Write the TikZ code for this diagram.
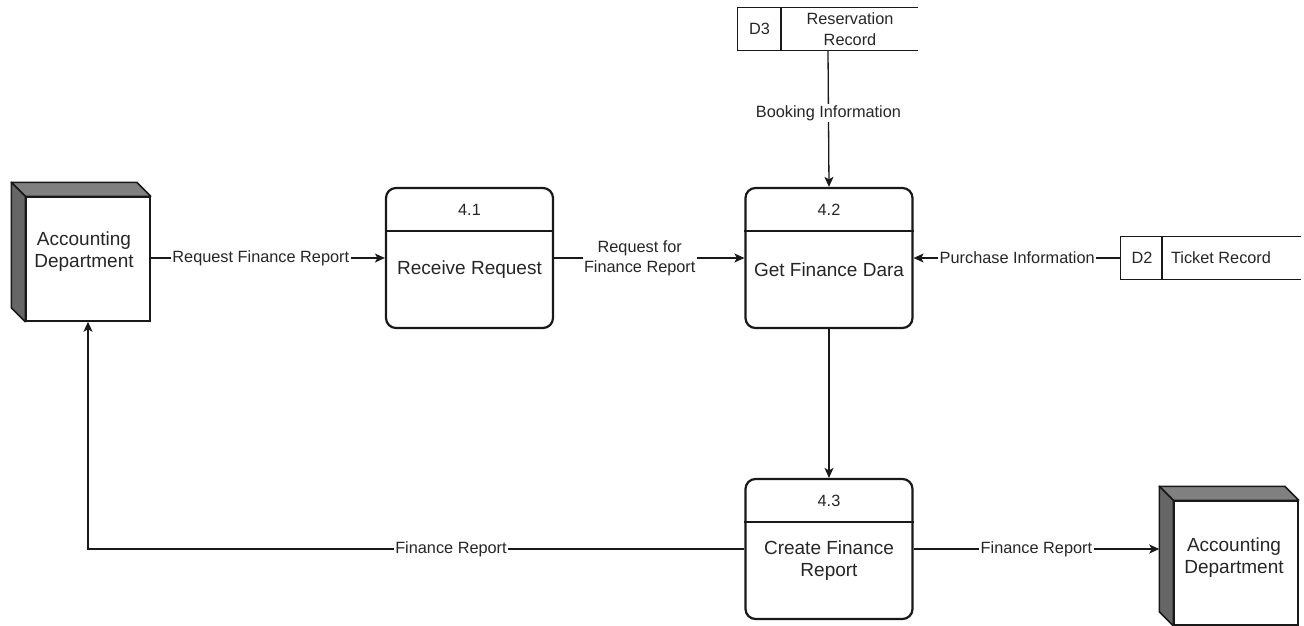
\documentclass[tikz,border=0pt]{standalone}
\usepackage{fontspec}
\setmainfont{Liberation Sans}
\usetikzlibrary{arrows.meta,calc}
\definecolor{topgray}{HTML}{808080}
\definecolor{sidegray}{HTML}{666666}
\tikzset{
  lbl/.style={font=\fontsize{16.3}{20}\selectfont, fill=white, inner sep=1.5pt, align=center, text=black!85},
  big/.style={font=\fontsize{19}{22}\selectfont, align=center, text=black!85, inner sep=0pt},
  small/.style={font=\fontsize{16.3}{20}\selectfont, align=center, text=black!85, inner sep=0pt},
  proc/.style={draw=black!90, line width=2.2pt, rounded corners=10pt, fill=white, minimum width=167, minimum height=140, inner sep=0pt},
  ent/.style={draw=black!90, line width=1.5pt, fill=white, minimum width=124, minimum height=124, inner sep=0pt},
  store/.style={minimum width=180, minimum height=42, inner sep=0pt},
  flow/.style={draw=black!90, line width=1.3pt, -{Stealth[length=10pt,width=9pt,inset=2.5pt]}},
}
\begin{document}
\begin{tikzpicture}[x=1pt,y=-1pt]
\useasboundingbox (0,0) rectangle (1304,626);

% ---- left entity
\node[ent] (e1) at (88,259) {};
\filldraw[fill=topgray, draw=black!90, line width=1.5pt, line join=round]
  (e1.north west) -- ++(-14,-14) -- ($(e1.north east)+(-14,-14)$) -- (e1.north east) -- cycle;
\filldraw[fill=sidegray, draw=black!90, line width=1.5pt, line join=round]
  (e1.north west) -- ++(-14,-14) -- ($(e1.south west)+(-14,-14)$) -- (e1.south west) -- cycle;
\node[big] (e1t) at (84,252) {Accounting\\Department};

% ---- right entity
\node[ent] (e2) at (1236,563) {};
\filldraw[fill=topgray, draw=black!90, line width=1.5pt, line join=round]
  (e2.north west) -- ++(-14,-14) -- ($(e2.north east)+(-14,-14)$) -- (e2.north east) -- cycle;
\filldraw[fill=sidegray, draw=black!90, line width=1.5pt, line join=round]
  (e2.north west) -- ++(-14,-14) -- ($(e2.south west)+(-14,-14)$) -- (e2.south west) -- cycle;
\node[big] (e2t) at (1234,558) {Accounting\\Department};
\coordinate (e2side) at ($(e2.west)+(-14,0)$);

% ---- processes
\node[proc] (p1) at (469.5,258) {};
\draw[line width=1.3pt, draw=black!90] (p1.west |- 0,231) -- (p1.east |- 0,231);
\node[small] (p1n) at (469.5,210) {4.1};
\node[big] (p1t) at (469.5,270) {Receive Request};

\node[proc] (p2) at (829,258) {};
\draw[line width=1.3pt, draw=black!90] (p2.west |- 0,231) -- (p2.east |- 0,231);
\node[small] (p2n) at (829,210) {4.2};
\node[big] (p2t) at (829,270) {Get Finance Dara};

\node[proc] (p3) at (829,549) {};
\draw[line width=1.3pt, draw=black!90] (p3.west |- 0,522) -- (p3.east |- 0,522);
\node[small] (p3n) at (829,501) {4.3};
\node[big] (p3t) at (829,561) {Create Finance\\Report};

% ---- data stores
\node[store] (d3) at (828,29) {};
\draw[line width=1.2pt, draw=black!90] (d3.north east) -- (d3.north west) -- (d3.south west) -- (d3.south east);
\draw[line width=1.2pt, draw=black!90] (781,8) -- (781,50);
\node[small] (d3n) at (759.5,29) {D3};
\node[small, font=\fontsize{16.3}{21}\selectfont] (d3t) at (850,29) {Reservation\\Record};

\node[store] (d2) at (1211,258) {};
\draw[line width=1.2pt, draw=black!90] (d2.north east) -- (d2.north west) -- (d2.south west) -- (d2.south east);
\draw[line width=1.2pt, draw=black!90] (1162,237) -- (1162,279);
\node[small] (d2n) at (1142,258) {D2};
\node[small] (d2t) at (1221,258) {Ticket Record};

% ---- flows
\draw[flow] (p1.west -| e1.east) -- node[lbl, pos=0.47] {Request Finance Report} (p1.west);
\draw[flow] (p1.east) -- node[lbl, pos=0.45] {Request for\\Finance Report} (p2.west);
\draw[flow] (d3.south) -- node[lbl, pos=0.46] {Booking Information} (p2.north);
\draw[flow] (d2.west) -- node[lbl, pos=0.5] {Purchase Information} (p2.east);
\draw[flow] (p2.south) -- (p3.north);
\draw[flow] (p3.west) -- node[lbl, pos=0.447] {Finance Report} (p3.west -| e1.south) -- (e1.south);
\draw[flow] (p3.east) -- node[lbl, pos=0.5] {Finance Report} (p3.east -| e2side);
\end{tikzpicture}
\end{document}
